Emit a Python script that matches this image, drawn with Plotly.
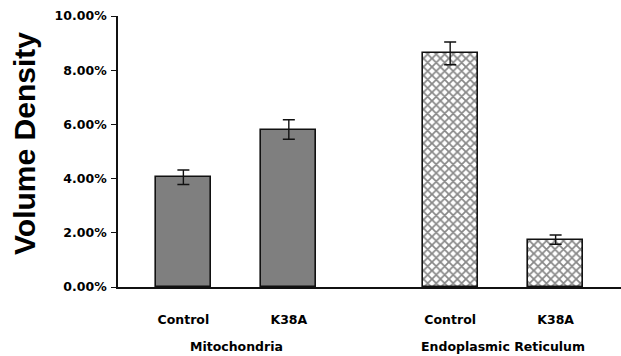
import plotly.graph_objects as go

groups = ["Mitochondria", "Endoplasmic Reticulum"]
conditions = ["Control", "K38A"]
mito_values = [4.05, 5.81]
mito_errors = [0.27, 0.36]
er_values = [8.62, 1.75]
er_errors = [0.42, 0.17]
y_ticks = [0, 2, 4, 6, 8, 10]
y_tick_labels = ["0.00%", "2.00%", "4.00%", "6.00%", "8.00%", "10.00%"]

GROUP_STEP = 2.53
def xpos(g, i):
    return g * GROUP_STEP + i

font = dict(family="DejaVu Sans, sans-serif", color="black", size=12.5, weight="bold")

fig = go.Figure()
fig.add_trace(go.Bar(
    x=[xpos(0, i) for i in range(2)], y=mito_values, width=0.52,
    marker=dict(color="#7f7f7f", line=dict(color="#111", width=1.6)),
    error_y=dict(type="data", array=mito_errors, color="#111", thickness=1.4, width=6),
    showlegend=False,
))
fig.add_trace(go.Bar(
    x=[xpos(1, i) for i in range(2)], y=er_values, width=0.52,
    marker=dict(color="white", line=dict(color="#111", width=1.6),
                pattern=dict(shape="x", fgcolor="#111", bgcolor="white", size=6, solidity=0.5)),
    error_y=dict(type="data", array=er_errors, color="#111", thickness=1.4, width=6),
    showlegend=False,
))

tickvals = [xpos(g, i) for g in range(2) for i in range(2)]
ticktext = conditions * 2

fig.update_layout(
    width=621, height=356,
    margin=dict(l=118, r=0, t=16, b=69),
    paper_bgcolor="white", plot_bgcolor="white",
    font=font,
    xaxis=dict(range=[-0.62, xpos(1, 1) + 0.62], tickvals=tickvals, ticktext=ticktext,
               showline=True, linecolor="#111", linewidth=1.6, ticks="", showgrid=False,
               zeroline=False, ticklabelstandoff=20, tickfont=font),
    yaxis=dict(range=[0, 10], tickvals=y_ticks, ticktext=y_tick_labels,
               showline=True, linecolor="#111", linewidth=1.6, ticks="outside", ticklen=5,
               tickwidth=1.4, tickcolor="#111", showgrid=False, zeroline=False, tickfont=font,
               ticklabelstandoff=2),
    bargap=0,
)

for g, name in enumerate(groups):
    fig.add_annotation(x=(xpos(g, 0) + xpos(g, 1)) / 2, y=0, xref="x", yref="paper",
                       yanchor="middle", yshift=-59, text=name, showarrow=False, font=font)

fig.add_annotation(x=-93 / 503, y=0.528, xref="paper", yref="paper", text="Volume Density",
                   textangle=-90, showarrow=False, xanchor="center", yanchor="middle",
                   font=dict(family="Liberation Sans, Arial, sans-serif", size=30, color="black", weight="bold"))

fig.write_html("out.html")
